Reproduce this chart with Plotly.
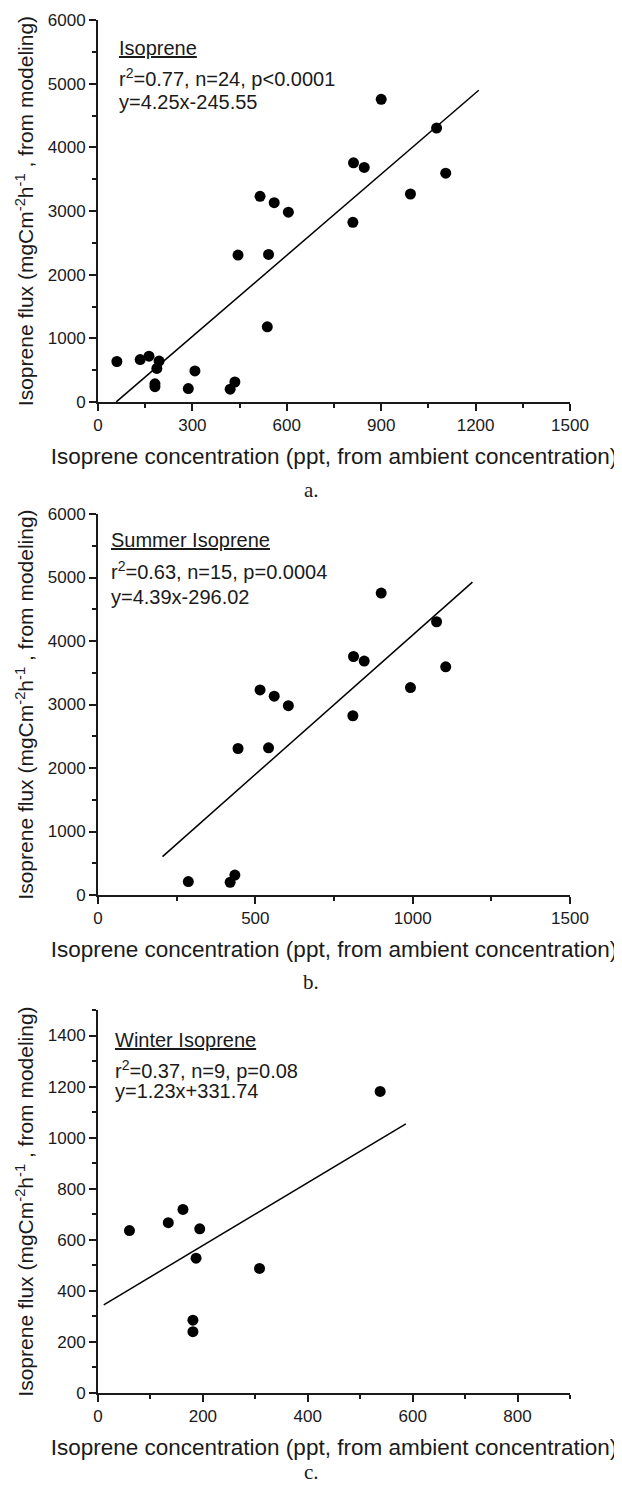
import plotly.graph_objects as go

# page is 622x1485; the browser body margin offsets the figure by 8px
OFF = 8
W, H = 622 - OFF, 1485 - OFF

# ---- data ----
winter_x = [60, 134, 162, 194, 187, 181, 181, 308, 538]
winter_y = [636, 667, 719, 643, 528, 285, 240, 488, 1181]
summer_x = [287, 420, 435, 445, 542, 515, 560, 605, 810, 812, 846, 993, 1076, 1105, 900]
summer_y = [211, 201, 314, 2307, 2318, 3230, 3131, 2982, 2823, 3756, 3684, 3267, 4303, 3594, 4754]
all_x = winter_x + summer_x
all_y = winter_y + summer_y

fit_slopes = [4.25, 4.39, 1.23]
fit_intercepts = [-245.55, -296.02, 331.74]
fit_x_ends = [[58, 1210], [205, 1190], [11, 587]]

panel_titles = ["Isoprene", "Summer Isoprene", "Winter Isoprene"]
panel_stats = ["r<sup>2</sup>=0.77, n=24, p&lt;0.0001",
               "r<sup>2</sup>=0.63, n=15, p=0.0004",
               "r<sup>2</sup>=0.37, n=9, p=0.08"]
panel_eqs = ["y=4.25x-245.55", "y=4.39x-296.02", "y=1.23x+331.74"]
panel_labels = ["a.", "b.", "c."]
x_ranges = [[0, 1500], [0, 1500], [0, 900]]
y_ranges = [[0, 6000], [0, 6000], [0, 1500]]
x_dticks = [300, 500, 200]
y_dticks = [1000, 1000, 200]
x_title = "Isoprene concentration (ppt, from ambient concentration)"
y_title = "Isoprene flux (mgCm<sup>-2</sup>h<sup>-1</sup> , from modeling)"

panel_x = [all_x, summer_x, winter_x]
panel_y = [all_y, summer_y, winter_y]

# ---- layout geometry (page pixels) ----
LEFT, RIGHT = 98, 570
TOPS = [20, 514, 1010]
BOTTOMS = [402, 895, 1393]
TXT_X = [117, 109, 113]
TXT_Y = [[48, 77, 102], [540, 570, 597], [1040, 1069, 1091]]
PLABEL_Y = [490, 982, 1472]

SANS = "Liberation Sans, Arial, sans-serif"
SERIF = "Liberation Serif, Times New Roman, serif"
INK = "#1a1a1a"

def px(x):
    return (x - OFF) / W

def py(y):
    return 1 - (y - OFF) / H

fig = go.Figure()
layout = dict(
    width=W, height=H, margin=dict(l=0, r=0, t=0, b=0, autoexpand=False),
    paper_bgcolor="white", plot_bgcolor="white", showlegend=False,
    font=dict(family=SANS, color=INK, size=17),
)
annotations = []

for i in range(3):
    n = i + 1
    xa = "x" if n == 1 else f"x{n}"
    ya = "y" if n == 1 else f"y{n}"
    dom_x = [px(LEFT), px(RIGHT)]
    dom_y = [py(BOTTOMS[i]), py(TOPS[i])]

    fig.add_trace(go.Scatter(
        x=panel_x[i], y=panel_y[i], mode="markers",
        marker=dict(size=11, color="black", line=dict(width=0)),
        xaxis=xa, yaxis=ya, hoverinfo="x+y"))
    fx = fit_x_ends[i]
    fy = [fit_slopes[i] * v + fit_intercepts[i] for v in fx]
    fig.add_trace(go.Scatter(
        x=fx, y=fy, mode="lines", line=dict(color="black", width=1.5),
        xaxis=xa, yaxis=ya, hoverinfo="skip"))

    common = dict(showgrid=False, zeroline=False, showline=True, automargin=False,
                  linecolor=INK, linewidth=2, tickcolor=INK, tickwidth=1.5)
    layout[f"xaxis{n if n > 1 else ''}"] = dict(
        common, domain=dom_x, anchor=ya, range=x_ranges[i], dtick=x_dticks[i],
        tick0=0, ticks="outside", ticklen=7,
        minor=dict(dtick=x_dticks[i] / 2, ticks="outside", ticklen=4,
                   tickcolor=INK, tickwidth=1.5),
        tickfont=dict(size=17, family=SANS, color=INK),
        title=dict(text=x_title, standoff=14,
                   font=dict(size=22.5, family=SANS, color=INK)))
    layout[f"yaxis{n if n > 1 else ''}"] = dict(
        common, domain=dom_y, anchor=xa, range=y_ranges[i], dtick=y_dticks[i],
        tick0=0, ticks="outside", ticklen=7,
        minor=dict(dtick=y_dticks[i] / 2, ticks="outside", ticklen=4,
                   tickcolor=INK, tickwidth=1.5),
        tickfont=dict(size=17, family=SANS, color=INK),
        title=dict(text=y_title, standoff=8,
                   font=dict(size=21, family=SANS, color=INK)))
    # mirrored axes with inward ticks (top and right)
    m = n + 3
    layout[f"xaxis{m}"] = dict(
        common, domain=dom_x, anchor=ya, overlaying=xa, side="top",
        range=x_ranges[i], dtick=x_dticks[i], tick0=0, ticks="inside", ticklen=6,
        minor=dict(dtick=x_dticks[i] / 2, ticks="inside", ticklen=4,
                   tickcolor=INK, tickwidth=1.5),
        showticklabels=False)
    layout[f"yaxis{m}"] = dict(
        common, domain=dom_y, anchor=xa, overlaying=ya, side="right",
        range=y_ranges[i], dtick=y_dticks[i], tick0=0, ticks="inside", ticklen=6,
        minor=dict(dtick=y_dticks[i] / 2, ticks="inside", ticklen=4,
                   tickcolor=INK, tickwidth=1.5),
        showticklabels=False)

    # in-plot texts
    texts = [f"<u>{panel_titles[i]}</u>", panel_stats[i], panel_eqs[i]]
    for t, yy in zip(texts, TXT_Y[i]):
        annotations.append(dict(
            text=t, x=px(TXT_X[i]), y=py(yy), xref="paper", yref="paper",
            xanchor="left", yanchor="middle", showarrow=False,
            font=dict(size=20, family=SANS, color=INK)))
    annotations.append(dict(
        text=panel_labels[i], x=px(311), y=py(PLABEL_Y[i]), xref="paper", yref="paper",
        xanchor="center", yanchor="middle", showarrow=False,
        font=dict(size=21, family=SERIF, color=INK)))

layout["annotations"] = annotations
fig.update_layout(**layout)
fig.write_html("out.html")
